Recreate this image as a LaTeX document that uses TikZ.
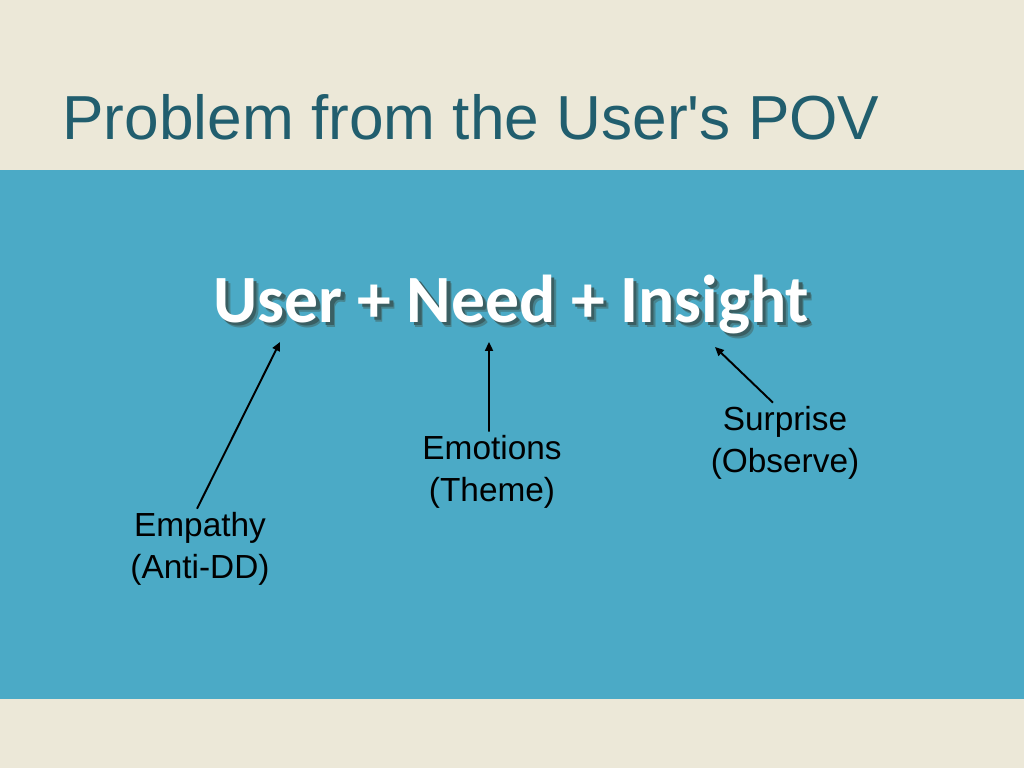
\documentclass[tikz,border=0pt]{standalone}
\usepackage{fontspec}
\setmainfont{Liberation Sans}
\newfontfamily\arial{Liberation Sans}
\newfontfamily\calibri{Carlito}
\usetikzlibrary{positioning, arrows.meta}
\definecolor{sand}{HTML}{ECE8D8}
\definecolor{slideblue}{HTML}{4BAAC6}
\definecolor{titleteal}{HTML}{215E6E}
\definecolor{shadowsoft}{HTML}{47848F}
\definecolor{shadowdark}{HTML}{3A5F63}
% Text mit weichem Schatten
\newcommand{\schattentext}[1]{%
  \rlap{\hspace{0.1cm}\raisebox{-0.1cm}{\color{shadowsoft}#1}}%
  \rlap{\hspace{0.07cm}\raisebox{-0.07cm}{\color{shadowdark}#1}}%
  {\color{white}#1}}
\begin{document}
\begin{tikzpicture}[
      x=0.02cm, y=-0.02cm,
      title/.style={font=\arial\fontsize{35.4}{42}\selectfont, text=titleteal, anchor=base west, inner sep=0pt},
      formula/.style={font=\calibri\bfseries\fontsize{38.5}{46}\selectfont, anchor=base west, inner sep=0pt},
      lbl/.style={font=\fontsize{19}{23.8}\selectfont, align=center, inner sep=2pt},
      flow/.style={-{Triangle[length=5pt, width=4.5pt]}, line width=1.1pt}
    ]
    \useasboundingbox (0,0) rectangle (1024,768);
    % Hintergrund
    \fill[sand] (0,0) rectangle (1024,768);
    \fill[slideblue] (0,170) rectangle (1024,699);

    \node[title] (titel) at (62,139) {Problem from the User's POV};

    % Formel
    \node[formula] (formel) at (213,322) {\schattentext{User + Need + Insight}};

    % Beschriftungen
    \node[lbl] (empathy) at (200,549) {Empathy\\(Anti-DD)};
    \node[lbl] (emotions) at (492,472) {Emotions\\(Theme)};
    \node[lbl] (surprise) at (785,443) {Surprise\\(Observe)};

    % Pfeilspitzen unter der Formel
    \coordinate (user) at (280,342);
    \coordinate (need) at (489,342);
    \coordinate (insight) at (715,347);

    \draw[flow] ([xshift=-0.06cm]empathy.north) -- (user);
    \draw[flow] ([xshift=-0.06cm]emotions.north) -- (need);
    \draw[flow] ([xshift=-0.24cm]surprise.north) -- (insight);
  \end{tikzpicture}
\end{document}
